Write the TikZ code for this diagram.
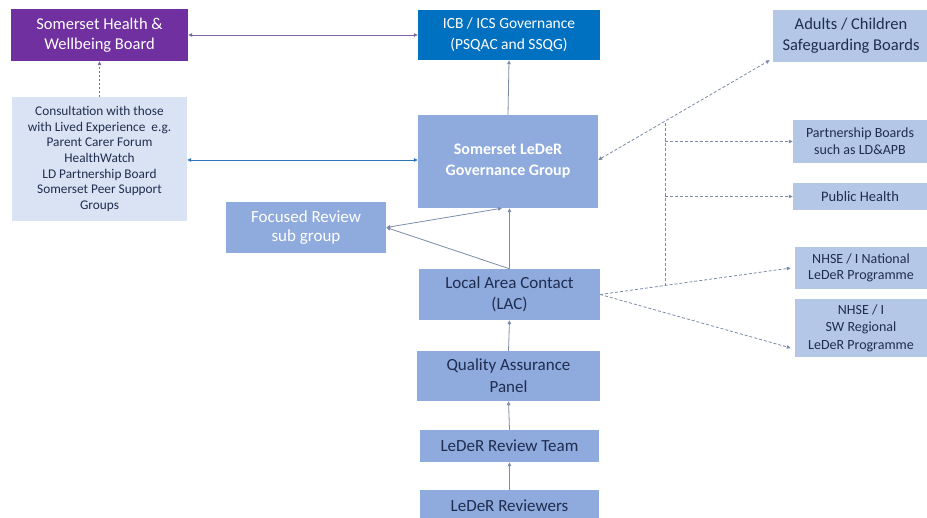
\documentclass[tikz,border=0pt]{standalone}
\usepackage{fontspec}
\setmainfont{Carlito}
\usetikzlibrary{arrows.meta,calc}
\definecolor{hwbpurple}{HTML}{7030A0}
\definecolor{icbblue}{HTML}{0070C0}
\definecolor{midblue}{HTML}{8FAADC}
\definecolor{lightblue}{HTML}{B4C7E7}
\definecolor{paleblue}{HTML}{DAE3F3}
\definecolor{darktext}{HTML}{1F2D50}
\definecolor{linegray}{HTML}{7A8BA8}
\definecolor{linepurple}{HTML}{8064A2}
\definecolor{lineblue}{HTML}{2E75B6}
\tikzset{
  box/.style={rectangle, inner sep=1pt, align=center, font=\fontsize{17}{21}\selectfont},
  darkbox/.style={box, fill=#1, text=white},
  litebox/.style={box, fill=#1, text=darktext},
  tip/.style={-{Triangle[length=4pt,width=3.5pt]}},
  tips/.style={{Triangle[length=4pt,width=3.5pt]}-{Triangle[length=4pt,width=3.5pt]}},
  conn/.style={draw=linegray, line width=0.8pt},
  dconn/.style={draw=linegray, line width=0.8pt, dash pattern=on 3pt off 2pt},
}
\begin{document}
\begin{tikzpicture}[x=1pt,y=-1pt]
\useasboundingbox (0,0) rectangle (927,518);
% nodes
\node[darkbox=hwbpurple, minimum width=177pt, minimum height=52pt, font=\fontsize{16.5}{20}\selectfont] (hwb) at (99.5,35) {Somerset Health \&\\Wellbeing Board};
\node[darkbox=icbblue, minimum width=182pt, minimum height=50pt, font=\fontsize{15.5}{21}\selectfont] (icb) at (509,35) {ICB / ICS Governance\\(PSQAC and SSQG)};
\node[litebox=lightblue, minimum width=156pt, minimum height=52pt, font=\fontsize{16.5}{21}\selectfont] (safe) at (851,36) {Adults / Children\\Safeguarding Boards};
\node[litebox=paleblue, minimum width=175pt, minimum height=124pt, font=\fontsize{13.3}{15.6}\selectfont] (cons) at (99.5,159) {Consultation with those\\with Lived Experience\ \ e.g.\\Parent Carer Forum\\HealthWatch\\LD Partnership Board\\Somerset Peer Support\\Groups};
\node[darkbox=midblue, minimum width=180pt, minimum height=93pt, font=\fontsize{16}{21}\selectfont\bfseries] (gov) at (508,161.5) {Somerset LeDeR\\Governance Group};
\node[darkbox=midblue, minimum width=160pt, minimum height=51pt, font=\fontsize{17}{19.5}\selectfont] (focus) at (306,227.5) {Focused Review\\sub group};
\node[litebox=lightblue, minimum width=134pt, minimum height=43pt, font=\fontsize{14}{17}\selectfont] (part) at (860,141.5) {Partnership Boards\\such as LD\&APB};
\node[litebox=lightblue, minimum width=134pt, minimum height=27pt, font=\fontsize{14.5}{17}\selectfont] (ph) at (860,196.5) {Public Health};
\node[litebox=midblue, minimum width=181pt, minimum height=51pt] (lac) at (509.5,294.5) {Local Area Contact\\(LAC)};
\node[litebox=lightblue, minimum width=132pt, minimum height=42pt, font=\fontsize{14}{16}\selectfont] (nat) at (861,268) {NHSE / I National\\LeDeR Programme};
\node[litebox=lightblue, minimum width=132pt, minimum height=58pt, font=\fontsize{14}{17.5}\selectfont] (sw) at (861,328) {NHSE / I\\SW Regional\\LeDeR Programme};
\node[litebox=midblue, minimum width=183pt, minimum height=50pt, font=\fontsize{17}{22}\selectfont] (qa) at (508.5,376) {Quality Assurance\\Panel};
\node[litebox=midblue, minimum width=179pt, minimum height=32pt] (team) at (509.5,446) {LeDeR Review Team};
\node[litebox=midblue, minimum width=179pt, minimum height=32pt] (rev) at (509.5,506) {LeDeR Reviewers};
% connectors
\draw[tips, draw=linepurple, line width=0.8pt] (hwb.east) -- (icb.west);
\draw[tip, draw=linepurple, line width=0.8pt, dash pattern=on 2pt off 2pt] (cons.north) -- (hwb.south);
\draw[tips, draw=lineblue, line width=0.8pt] (gov.west |- 0,160) -- (cons.east |- 0,160);
\draw[tip, conn] (gov.north) -- (icb.south);
\draw[tips, dconn] (gov.east |- 0,160) -- ([xshift=-3pt,yshift=2pt]safe.south west);
\coordinate (j) at ($(lac.east)!0.333!(nat.west)$);
\coordinate (jtop) at (j |- 0,123);
\draw[dconn] (jtop) -- (j);
\draw[tip, dconn] (j |- part.west) -- (part.west);
\draw[tip, dconn] (j |- ph.west) -- (ph.west);
\draw[tip, dconn] (lac.east) -- ([xshift=-4pt]nat.west);
\draw[tip, dconn] (lac.east) -- ([xshift=-4pt,yshift=-20pt]sw.west);
\draw[tips, conn] (focus.east) -- ([xshift=-6pt]gov.south);
\draw[tip, conn] (lac.north) -- (focus.east);
\draw[tip, conn] (lac.north) -- (lac.north |- gov.south);
\draw[tip, conn] (qa.north) -- (lac.south);
\draw[tip, conn] (team.north) -- (qa.south);
\draw[tip, conn] (rev.north) -- (team.south);
\end{tikzpicture}
\end{document}
